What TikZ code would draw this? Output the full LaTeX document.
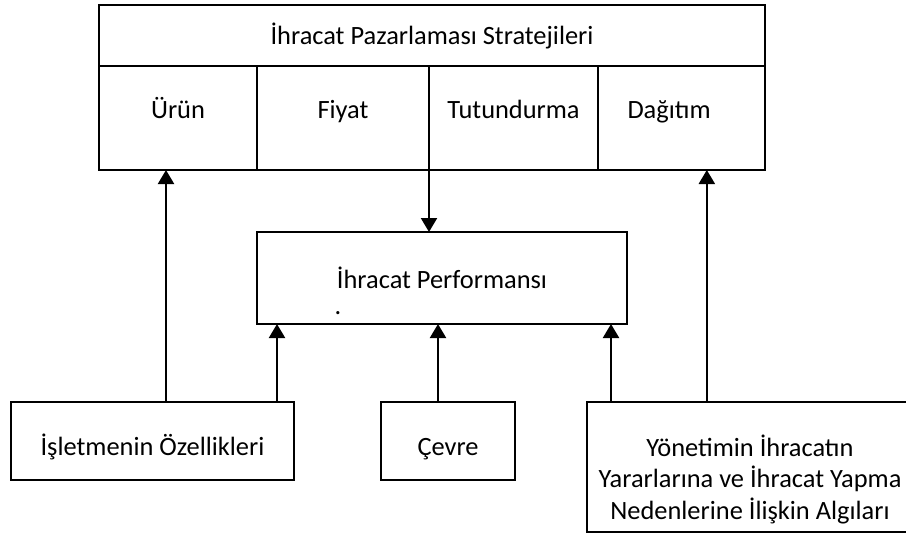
\documentclass[tikz,border=0pt]{standalone}
\usepackage{fontspec}
\setmainfont{Carlito}
\usetikzlibrary{positioning, arrows.meta}

\begin{document}
\begin{tikzpicture}[x=0.75pt, y=-0.75pt, font=\fontsize{19.8}{21.75}\selectfont,
    kutu/.style={draw, line width=1.6pt, inner sep=0pt, outer sep=0pt, align=center},
    hucre/.style={kutu, minimum height=78pt, text height=14pt, text depth=14pt},
    altkutu/.style={kutu, minimum height=58.5pt, text height=22pt, text depth=0pt},
    ok/.style={-{Triangle[length=10.5pt, width=12pt]}, line width=1.6pt}]
    \useasboundingbox (0,0) rectangle (906,535);

    \node[kutu, minimum width=499.5pt, minimum height=45.75pt] (baslik) at (432,35.5)
      {İhracat Pazarlaması Stratejileri};
    \node[hucre, minimum width=118.5pt, anchor=north west] (urun) at (baslik.south west) {Ürün};
    \node[hucre, minimum width=129pt, right=0pt of urun] (fiyat) {Fiyat};
    \node[hucre, minimum width=126.75pt, right=0pt of fiyat] (tutun) {Tutundurma};
    \node[hucre, minimum width=125.25pt, text width=81pt, align=left, right=0pt of tutun] (dagitim) {Dağıtım};

    \node[kutu, minimum width=277.5pt, minimum height=69pt] (perf) at (442,278)
      {İhracat Performansı};
    \node (nokta) at (338,313) {.};

    \node[altkutu, minimum width=212.25pt] (isletme) at (152.5,441) {İşletmenin Özellikleri};
    \node[altkutu, minimum width=100.5pt] (cevre) at (448,441) {Çevre};
    \node[kutu, minimum width=244.5pt, minimum height=97.5pt, text height=78pt, text depth=0pt,
          font=\fontsize{19.8}{23.5}\selectfont] (yonetim) at (750,467)
      {Yönetimin İhracatın\\Yararlarına ve İhracat Yapma\\Nedenlerine İlişkin Algıları};

    \draw[ok] (tutun.south west) -- (tutun.south west |- perf.north);
    \draw[ok] ([xshift=-9pt]urun.south |- isletme.north) -- ([xshift=-9pt]urun.south);
    \draw[ok] ([xshift=15pt]perf.south west |- isletme.north) -- ([xshift=15pt]perf.south west);
    \draw[ok] ([xshift=-3pt]perf.south |- cevre.north) -- ([xshift=-3pt]perf.south);
    \draw[ok] ([xshift=-12pt]perf.south east |- yonetim.north) -- ([xshift=-12pt]perf.south east);
    \draw[ok] ([xshift=19pt]dagitim.south |- yonetim.north) -- ([xshift=19pt]dagitim.south);
\end{tikzpicture}
\end{document}
